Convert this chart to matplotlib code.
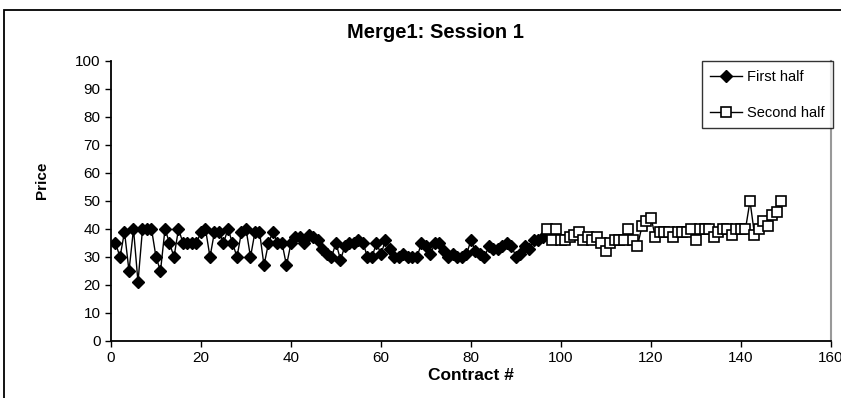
import matplotlib
matplotlib.use("Agg")
import matplotlib.pyplot as plt
from matplotlib.patches import Rectangle

plt.rcParams['font.family'] = ['Liberation Sans', 'DejaVu Sans']

# Contract numbers and prices, first half of the session
first_x = list(range(1, 97))
first_price = [
    35, 30, 39, 25, 40, 21, 40, 40, 40, 30,
    25, 40, 35, 30, 40, 35, 35, 35, 35, 39,
    40, 30, 39, 39, 35, 40, 35, 30, 39, 40,
    30, 39, 39, 27, 35, 39, 35, 35, 27, 35,
    37, 37, 35, 38, 37, 36, 33, 31, 30, 35,
    29, 34, 35, 35, 36, 35, 30, 30, 35, 31,
    36, 33, 30, 30, 31, 30, 30, 30, 35, 34,
    31, 35, 35, 32, 30, 31, 30, 30, 31, 36,
    32, 31, 30, 34, 33, 33, 34, 35, 34, 30,
    31, 34, 33, 36, 36, 37,
]

# Second half of the session
second_x = list(range(97, 150))
second_price = [
    40, 36, 40, 36, 36, 37, 38, 39, 36, 37,
    36, 37, 35, 32, 35, 36, 36, 36, 40, 36,
    34, 41, 43, 44, 37, 39, 39, 39, 37, 39,
    39, 39, 40, 36, 40, 40, 40, 37, 39, 40,
    40, 38, 40, 40, 40, 50, 38, 40, 43, 41,
    45, 46, 50,
]

x_ticks = list(range(0, 161, 20))
y_ticks = list(range(0, 101, 10))

W, H = 841, 398
fig = plt.figure(figsize=(W / 100, H / 100), dpi=100)

# Outer chart frame (runs off the right and bottom edges)
fig.add_artist(Rectangle((4 / W, -0.05), 1.05, 1.05 - 10 / H,
                         transform=fig.transFigure, fill=False,
                         edgecolor='black', linewidth=1.3))

ax = fig.add_axes([111 / W, 1 - 341 / H, (831 - 111) / W, (341 - 61) / H])

ax.plot(first_x, first_price, color='black', linewidth=1.0,
        marker='D', markersize=6, markerfacecolor='black',
        markeredgecolor='black', label='First half', zorder=3)
ax.plot(second_x, second_price, color='black', linewidth=1.0,
        marker='s', markersize=7.5, markerfacecolor='white',
        markeredgecolor='black', markeredgewidth=1.2,
        label='Second half', zorder=3)

ax.set_xlim(0, 160)
ax.set_ylim(0, 100)
ax.set_xticks(x_ticks)
ax.set_yticks(y_ticks)
ax.tick_params(axis='both', direction='out', length=4, width=1,
               labelsize=11, colors='black')
ax.tick_params(axis='x', pad=3)

for side in ('left', 'bottom'):
    ax.spines[side].set_linewidth(1.3)
    ax.spines[side].set_color('black')
ax.spines['top'].set_visible(False)
ax.spines['right'].set_color('#999999')
ax.spines['right'].set_linewidth(1.5)

fig.text(435 / W, 1 - 33 / H, 'Merge1: Session 1', fontsize=14.5,
         fontweight='bold', ha='center', va='center')
ax.set_xlabel('Contract #', fontsize=12.5, fontweight='bold', labelpad=2)
fig.text(42 / W, 1 - 180 / H, 'Price', fontsize=11, fontweight='bold',
         rotation=90, ha='center', va='center')

leg = ax.legend(loc='upper right', bbox_to_anchor=(1.003, 1.0),
                frameon=True, fancybox=False, fontsize=10.5,
                handlelength=2.2, borderpad=0.6, labelspacing=1.5,
                handletextpad=0.3, borderaxespad=0.0)
leg.get_frame().set_edgecolor('black')
leg.get_frame().set_linewidth(1.0)

fig.savefig('out.png', dpi=100)
